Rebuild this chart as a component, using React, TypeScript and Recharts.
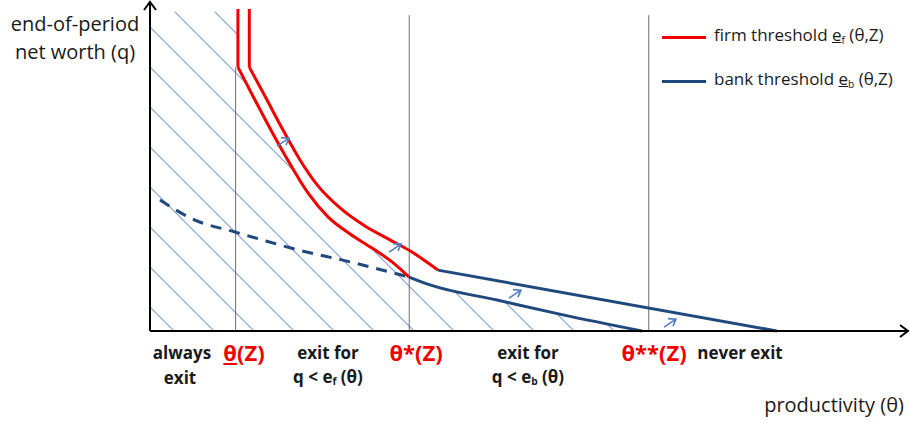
import React from "react";
import {
  ComposedChart,
  Line,
  Area,
  Scatter,
  XAxis,
  YAxis,
  ReferenceLine,
} from "recharts";

// productivity (theta) on x, end-of-period net worth (q) on y, both on a 0..10 scale
const redLowerStem = [
  { theta: 1.16, q: 9.79 },
  { theta: 1.16, q: 8.02 },
];
const redLowerCurve = [
  { theta: 1.16, q: 8.02 },
  { theta: 1.385, q: 7.02 },
  { theta: 1.609, q: 6.05 },
  { theta: 1.847, q: 5.08 },
  { theta: 2.084, q: 4.2 },
  { theta: 2.348, q: 3.47 },
  { theta: 2.639, q: 2.95 },
  { theta: 2.929, q: 2.52 },
  { theta: 3.193, q: 2.1 },
  { theta: 3.417, q: 1.64 },
];
const redUpperStem = [
  { theta: 1.31, q: 9.79 },
  { theta: 1.31, q: 8.02 },
];
const redUpperCurve = [
  { theta: 1.31, q: 8.02 },
  { theta: 1.53, q: 7.08 },
  { theta: 1.755, q: 6.11 },
  { theta: 1.979, q: 5.2 },
  { theta: 2.216, q: 4.41 },
  { theta: 2.507, q: 3.74 },
  { theta: 2.836, q: 3.19 },
  { theta: 3.166, q: 2.77 },
  { theta: 3.456, q: 2.4 },
  { theta: 3.799, q: 1.85 },
];
const blueUpper = [
  { theta: 3.799, q: 1.85 },
  { theta: 8.27, q: 0 },
];
const blueLower = [
  { theta: 3.417, q: 1.64 },
  { theta: 3.694, q: 1.4 },
  { theta: 4.578, q: 0.94 },
  { theta: 5.449, q: 0.49 },
  { theta: 6.49, q: 0 },
];
const blueDashed = [
  { theta: 0.132, q: 3.98 },
  { theta: 0.594, q: 3.37 },
  { theta: 1.121, q: 3.01 },
  { theta: 1.478, q: 2.77 },
  { theta: 1.913, q: 2.49 },
  { theta: 2.639, q: 2.1 },
  { theta: 3.417, q: 1.64 },
];
const hatchTopEdge = [
  { theta: 0, q: 9.7 },
  { theta: 1.16, q: 9.7 },
];
const shiftArrows = [
  { theta: 1.755, q: 5.74 },
  { theta: 3.232, q: 2.52 },
  { theta: 4.815, q: 1.12 },
  { theta: 6.86, q: 0.24 },
];
const thresholds = [
  { theta: 1.13, top: 8.02 },
  { theta: 3.42, top: 9.6 },
  { theta: 6.58, top: 9.6 },
];
const axisHeads = [
  { theta: 10, q: 0, dir: "right" },
  { theta: 0, q: 10, dir: "up" },
];

const hatchArea = [...hatchTopEdge, ...redLowerCurve, ...blueLower.slice(1)];

const RED = "#f20000";
const NAVY = "#1f497d";
const FONT = "'Open Sans', 'DejaVu Sans', sans-serif";

const ShiftArrow = (props: any) => {
  const { cx, cy } = props;
  const tx = cx + 6;
  const ty = cy - 4;
  return (
    <path
      d={`M${cx - 6},${cy + 4} L${tx},${ty} M${tx - 8},${ty - 0.5} L${tx},${ty} L${tx - 3},${ty + 7}`}
      stroke="#4f81bd"
      strokeWidth={1.6}
      fill="none"
    />
  );
};

const AxisHead = (props: any) => {
  const { cx, cy, payload } = props;
  const d =
    payload.dir === "right"
      ? `M${cx - 8},${cy - 6} L${cx},${cy} L${cx - 8},${cy + 6}`
      : `M${cx - 6},${cy + 8} L${cx},${cy} L${cx + 6},${cy + 8}`;
  return <path d={d} stroke="#000" strokeWidth={2} fill="none" />;
};

const label = (
  text: React.ReactNode,
  x: number,
  y: number,
  style: React.CSSProperties = {}
) => (
  <div
    style={{
      position: "absolute",
      left: x,
      top: y,
      transform: "translate(-50%, -50%)",
      whiteSpace: "nowrap",
      lineHeight: 1,
      fontFamily: FONT,
      color: "#1a1a1a",
      ...style,
    }}
  >
    {text}
  </div>
);

const bold = { fontWeight: 700, fontSize: 17 };
const redBold = { fontWeight: 700, fontSize: 22, color: RED };
const sub = { fontSize: "0.6em", verticalAlign: "-0.25em" };

export default function App() {
  return (
    <div style={{ position: "absolute", left: 0, top: 0, width: 910, height: 423, background: "#fff" }}>
      <ComposedChart
        width={910}
        height={423}
        margin={{ top: 2, right: 2, bottom: 92, left: 150 }}
      >
        <defs>
          <pattern
            id="hatch"
            patternUnits="userSpaceOnUse"
            width={28.284}
            height={28.284}
            patternTransform="translate(-17,0) rotate(-45)"
          >
            <line x1={14.142} y1={0} x2={14.142} y2={28.284} stroke="#8aa3d0" strokeWidth={1.1} />
          </pattern>
        </defs>
        <XAxis type="number" dataKey="theta" domain={[0, 10]} hide />
        <YAxis type="number" dataKey="q" domain={[0, 10]} hide />

        <Area
          data={hatchArea}
          dataKey="q"
          type="linear"
          fill="url(#hatch)"
          fillOpacity={1}
          stroke="none"
          isAnimationActive={false}
        />

        {thresholds.map((t) => (
          <ReferenceLine
            key={t.theta}
            segment={[
              { x: t.theta, y: 0 },
              { x: t.theta, y: t.top },
            ]}
            stroke="#6e6e6e"
            strokeWidth={1}
          />
        ))}

        <Line data={blueDashed} dataKey="q" type="monotone" stroke={NAVY} strokeWidth={3} strokeDasharray="11 8" dot={false} isAnimationActive={false} />
        <Line data={redLowerStem} dataKey="q" type="linear" stroke={RED} strokeWidth={3} dot={false} isAnimationActive={false} />
        <Line data={redLowerCurve} dataKey="q" type="monotone" stroke={RED} strokeWidth={3} dot={false} isAnimationActive={false} />
        <Line data={redUpperStem} dataKey="q" type="linear" stroke={RED} strokeWidth={3} dot={false} isAnimationActive={false} />
        <Line data={redUpperCurve} dataKey="q" type="monotone" stroke={RED} strokeWidth={3} dot={false} isAnimationActive={false} />
        <Line data={blueLower} dataKey="q" type="monotone" stroke={NAVY} strokeWidth={3} dot={false} isAnimationActive={false} />
        <Line data={blueUpper} dataKey="q" type="linear" stroke={NAVY} strokeWidth={3} dot={false} isAnimationActive={false} />

        <Scatter data={shiftArrows} dataKey="q" shape={ShiftArrow} isAnimationActive={false} />

        <ReferenceLine segment={[{ x: 0, y: 0 }, { x: 10, y: 0 }]} stroke="#000" strokeWidth={2} />
        <ReferenceLine segment={[{ x: 0, y: 0 }, { x: 0, y: 10 }]} stroke="#000" strokeWidth={2} />
        <Scatter data={axisHeads} dataKey="q" shape={AxisHead} isAnimationActive={false} />
      </ComposedChart>

      {/* axis titles */}
      {label("end-of-period", 75, 24, { fontSize: 20 })}
      {label("net worth (q)", 75, 52, { fontSize: 20 })}
      {label("productivity (θ)", 834, 405, { fontSize: 20 })}

      {/* legend */}
      <div style={{ position: "absolute", left: 662, top: 36, width: 44, height: 3, background: RED }} />
      <div style={{ position: "absolute", left: 662, top: 80, width: 44, height: 3, background: NAVY }} />
      <div style={{ position: "absolute", left: 714, top: 26, fontFamily: FONT, fontSize: 17, lineHeight: 1, color: "#1a1a1a", whiteSpace: "nowrap" }}>
        firm threshold <u>e</u><span style={sub}>f</span> (θ,Z)
      </div>
      <div style={{ position: "absolute", left: 714, top: 70, fontFamily: FONT, fontSize: 17, lineHeight: 1, color: "#1a1a1a", whiteSpace: "nowrap" }}>
        bank threshold <u>e</u><span style={sub}>b</span> (θ,Z)
      </div>

      {/* regions and cut-offs under the axis */}
      {label("always", 182, 352, bold)}
      {label("exit", 180, 377, bold)}
      {label(<><u>θ</u>(Z)</>, 244, 352, redBold)}
      {label("exit for", 328, 352, bold)}
      {label(<>q &lt; e<span style={sub}>f</span> (θ)</>, 328, 377, bold)}
      {label("θ*(Z)", 416, 352, redBold)}
      {label("exit for", 528, 352, bold)}
      {label(<>q &lt; e<span style={sub}>b</span> (θ)</>, 528, 377, bold)}
      {label("θ**(Z)", 654, 352, redBold)}
      {label("never exit", 740, 352, bold)}
    </div>
  );
}
